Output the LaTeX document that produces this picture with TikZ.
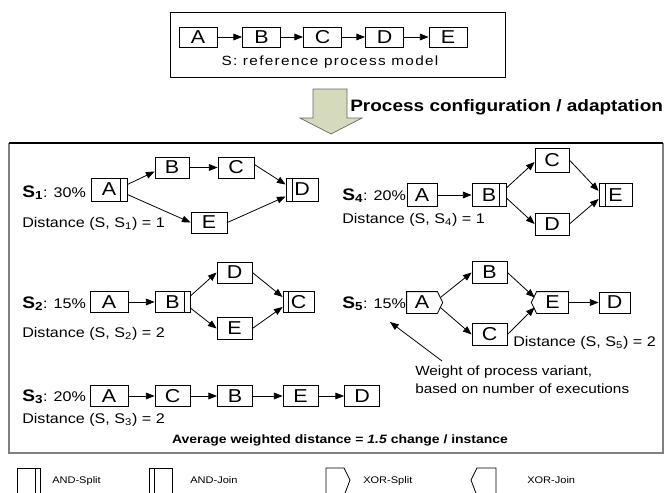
\documentclass[tikz,border=0pt]{standalone}
\usepackage{fontspec}
\setmainfont{Liberation Sans}[FakeStretch=1.15]
\usetikzlibrary{arrows.meta,calc}
\definecolor{agreen}{RGB}{214,218,188}
\begin{document}
\begin{tikzpicture}[x=0.75pt,y=-0.75pt,
  bx/.style={draw, line width=0.6pt, inner sep=0pt, minimum height=16.5pt, minimum width=26.25pt, font=\fontsize{14}{16}\selectfont},
  w/.style={minimum width=#1*0.75pt},
  h/.style={minimum height=#1*0.75pt},
  arr/.style={line width=0.6pt, -{Triangle[length=6.5pt,width=5pt]}},
  lbl/.style={anchor=base west, inner sep=0pt, font=\fontsize{10.5}{12}\selectfont},
  slbl/.style={anchor=base west, inner sep=0pt, font=\fontsize{10.5}{12}\selectfont},
  gate/.style={line width=0.6pt},
]
\useasboundingbox (0,0) rectangle (666,492);
\newcommand\Sname[1]{{\bfseries\fontsize{12.5}{14}\selectfont S\textsubscript{#1}}}

% ---------- top reference model ----------
\draw[line width=0.6pt] (170,12) rectangle (505,77);
\begin{scope}[every node/.style={bx, w=38, h=20}]
\node (tA) at (198,37) {A};
\node (tB) at (261.5,37) {B};
\node (tC) at (322.5,37) {C};
\node (tD) at (384.5,37) {D};
\node (tE) at (448,37) {E};
\end{scope}
\draw[arr] (tA) -- (tB);
\draw[arr] (tB) -- (tC);
\draw[arr] (tC) -- (tD);
\draw[arr] (tD) -- (tE);
\node[anchor=base, inner sep=0pt, font=\fontsize{10}{11}\selectfont\addfontfeature{LetterSpace=10}] (cap) at (330,65) {S: reference process model};

% ---------- block arrow ----------
\draw[fill=agreen, draw=gray!80!black, line width=0.5pt]
  (313,89) -- (347,89) -- (347,118) -- (362,118) -- (331,134) -- (300,118) -- (313,118) -- cycle;
\node[anchor=base west, inner sep=0pt, font=\bfseries\fontsize{12.4}{14}\selectfont] (pc) at (350,111) {Process configuration / adaptation};

% ---------- main frame ----------
\draw[gray, line width=1.2pt] (9,143) -- (9,453) -- (663,453) -- (663,143);
\draw[line width=0.8pt] (9,143) -- (663,143);

% ---------- S1 ----------
\node[slbl] (s1) at (22,197) {\Sname{1}: 30\%};
\node[lbl] (d1) at (22,227) {Distance (S, S\textsubscript{1}) = 1};
\node[bx, w=36, h=23] (A1) at (109,189.5) {A};
\node[bx, w=34, h=21] (B1) at (172,167.5) {B};
\node[bx, w=36, h=21] (C1) at (236,167.5) {C};
\node[bx, w=32, h=23] (D1) at (302,189.5) {D};
\node[bx, w=36, h=21] (E1) at (209,222.5) {E};
\draw[gate] ([xshift=-5pt]A1.north east) -- ([xshift=-5pt]A1.south east);
\draw[gate] ([xshift=5pt]D1.north west) -- ([xshift=5pt]D1.south west);
\draw[arr] ($(A1.east)+(0,-5)$) -- ($(B1.west)+(0,4)$);
\draw[arr] ($(A1.east)+(0,5)$) -- (E1.west);
\draw[arr] (B1) -- (C1);
\draw[arr] ($(C1.east)+(0,-3)$) -- ($(D1.west)+(0,-5)$);
\draw[arr] (E1.east) -- ($(D1.west)+(0,7)$);

% ---------- S4 ----------
\node[slbl] (s4) at (342,200) {\Sname{4}: 20\%};
\node[lbl] (d4) at (342,223) {Distance (S, S\textsubscript{4}) = 1};
\node[bx, w=30, h=23] (A4) at (422,195) {A};
\node[bx, w=34, h=23] (B4) at (489,195) {B};
\node[bx, w=34, h=24] (C4) at (552,160) {C};
\node[bx, w=34, h=22] (D4) at (552,224) {D};
\node[bx, w=33, h=23] (E4) at (615.5,195) {E};
\draw[gate] ([xshift=-5pt]B4.north east) -- ([xshift=-5pt]B4.south east);
\draw[gate] ([xshift=5pt]E4.north west) -- ([xshift=5pt]E4.south west);
\draw[arr] (A4) -- (B4);
\draw[arr] ($(B4.east)+(0,-7)$) -- ($(C4.west)+(0,2)$);
\draw[arr] ($(B4.east)+(0,3)$) -- (D4.west);
\draw[arr] (C4.east) -- ($(E4.west)+(0,-4)$);
\draw[arr] (D4.east) -- ($(E4.west)+(0,4)$);

% ---------- S2 ----------
\node[slbl] (s2) at (22,308) {\Sname{2}: 15\%};
\node[lbl] (d2) at (22,337) {Distance (S, S\textsubscript{2}) = 2};
\node[bx, w=38, h=21] (A2) at (109,302) {A};
\node[bx, w=35, h=21] (B2) at (172.5,302) {B};
\node[bx, w=35, h=21] (D2) at (234.5,272.5) {D};
\node[bx, w=35, h=22] (E2) at (234.5,328.5) {E};
\node[bx, w=31, h=21] (C2) at (298.5,302) {C};
\draw[gate] ([xshift=-4.5pt]B2.north east) -- ([xshift=-4.5pt]B2.south east);
\draw[gate] ([xshift=4.5pt]C2.north west) -- ([xshift=4.5pt]C2.south west);
\draw[arr] (A2) -- (B2);
\draw[arr] ($(B2.east)+(0,-6)$) -- (D2.west);
\draw[arr] ($(B2.east)+(0,6)$) -- (E2.west);
\draw[arr] (D2.east) -- ($(C2.west)+(0,-5)$);
\draw[arr] (E2.east) -- ($(C2.west)+(0,5)$);

% ---------- S3 ----------
\node[slbl] (s3) at (22,401) {\Sname{3}: 20\%};
\node[lbl] (d3) at (22,423) {Distance (S, S\textsubscript{3}) = 2};
\begin{scope}[every node/.style={bx, w=35, h=21}]
\node[w=38] (A3) at (109,396) {A};
\node (C3) at (172.5,396) {C};
\node (B3) at (235,396) {B};
\node (E3) at (300.5,396) {E};
\node (D3) at (362,396) {D};
\end{scope}
\draw[arr] (A3) -- (C3);
\draw[arr] (C3) -- (B3);
\draw[arr] (B3) -- (E3);
\draw[arr] (E3) -- (D3);

% ---------- S5 ----------
\node[slbl] (s5) at (342,308) {\Sname{5}: 15\%};
\node[lbl] (d5) at (513,346) {Distance (S, S\textsubscript{5}) = 2};
\node[bx, draw=none, w=30, h=21] (A5) at (422,302.5) {A};
\draw[gate] (A5.north west) -- (A5.north east) -- ([xshift=4pt]A5.east) -- (A5.south east) -- (A5.south west) -- cycle;
\node[bx, w=35, h=22] (B5) at (489.5,272.5) {B};
\node[bx, w=35, h=22] (C5) at (489.5,334.5) {C};
\node[bx, draw=none, w=31, h=21] (E5) at (552.5,302.5) {E};
\draw[gate] (E5.north east) -- (E5.north west) -- ([xshift=-4pt]E5.west) -- (E5.south west) -- (E5.south east) -- cycle;
\node[bx, w=31, h=21] (D5) at (614.5,302.5) {D};
\draw[arr] ($(A5.east)+(3,-5)$) -- (B5.west);
\draw[arr] ($(A5.east)+(3,5)$) -- (C5.west);
\draw[arr] (B5.east) -- ($(E5.west)+(-2,-5)$);
\draw[arr] (C5.east) -- ($(E5.west)+(-2,5)$);
\draw[arr] (E5) -- (D5);

% annotation
\node[anchor=base west, inner sep=0pt, font=\fontsize{10}{13.5}\selectfont] (wt1) at (415,375) {Weight of process variant,};
\node[anchor=base west, inner sep=0pt, font=\fontsize{10}{13.5}\selectfont] (wt2) at (415,393) {based on number of executions};
\coordinate (wfrom) at (442,361);
\coordinate (wtip) at (390,322);
\draw[arr] (wfrom) -- (wtip);

% average
\node[anchor=base, inner sep=0pt, font=\bfseries\fontsize{9.1}{12}\selectfont] (avg) at (340,443)
  {Average weighted distance = \textit{1.5} change / instance};

% ---------- legend ----------
\begin{scope}
\clip (0,460) rectangle (666,492);
\draw[gate] (17,468) rectangle (40,496);
\draw[gate] (35,468) -- (35,496);
\draw[gate] (149,468) rectangle (172,496);
\draw[gate] (154,468) -- (154,496);
\draw[gate] (326,496) -- (326,468) -- (344,468) -- (350,480) -- (344,496);
\draw[gate] (496,496) -- (496,468) -- (477,468) -- (471,480) -- (477,496);
\end{scope}
\begin{scope}[every node/.style={anchor=base west, inner sep=0pt, font=\fontsize{7.2}{9}\selectfont}]
\node (l1) at (52,483) {AND-Split};
\node (l2) at (190,483) {AND-Join};
\node (l3) at (363,483) {XOR-Split};
\node (l4) at (527,483) {XOR-Join};
\end{scope}
\end{tikzpicture}
\end{document}
